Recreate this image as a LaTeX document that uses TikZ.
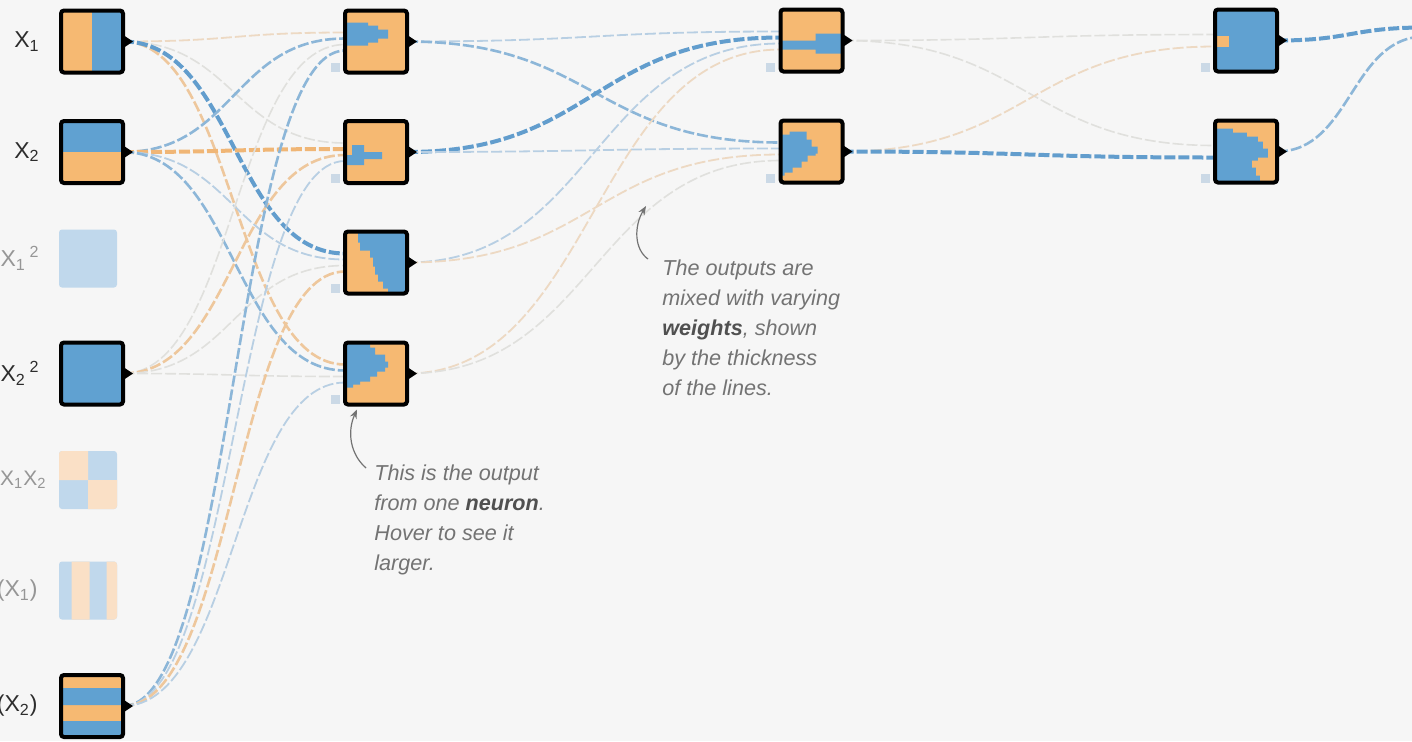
\documentclass[tikz,border=0pt]{standalone}
\usepackage{fontspec}
\setmainfont{Liberation Sans}
\usetikzlibrary{positioning, arrows.meta}

\definecolor{cbg}{RGB}{246,246,246}
\definecolor{corange}{RGB}{246,185,114}
\definecolor{cblue}{RGB}{96,161,209}
\definecolor{fblue}{RGB}{192,216,236}
\definecolor{forange}{RGB}{250,224,198}
\definecolor{cbias}{RGB}{203,217,230}
\definecolor{clabel}{RGB}{45,45,45}
\definecolor{cfaded}{RGB}{150,150,150}
\definecolor{cnote}{RGB}{115,115,115}
\definecolor{cbold}{RGB}{80,80,80}
\definecolor{lb1}{RGB}{98,157,205}
\definecolor{lb2}{RGB}{140,182,216}
\definecolor{lb3}{RGB}{184,207,227}
\definecolor{lo1}{RGB}{240,182,118}
\definecolor{lo2}{RGB}{238,199,156}
\definecolor{lo3}{RGB}{237,217,195}
\definecolor{lg}{RGB}{224,224,221}

\pgfdeclarelayer{bg}
\pgfdeclarelayer{links}
\pgfsetlayers{bg,links,main}

\begin{document}
\begin{tikzpicture} [
            x=0.5pt, y=-0.5pt,
            neuron/.style   = { rectangle, draw=black, line width=2pt, fill=corange,
                                rounded corners=1.5pt, minimum size=31pt,
                                inner sep=0pt, outer sep=0pt },
            feature/.style  = { rectangle, fill=fblue, rounded corners=1.5pt,
                                minimum size=29pt, inner sep=0pt, outer sep=0pt },
            heat/.style     = { path picture={\begin{scope}[shift={(path picture bounding box.center)}, sharp corners] #1 \end{scope}} },
            bias/.style     = { rectangle, fill=cbias, minimum size=4.5pt, inner sep=0pt },
            inlabel/.style  = { font=\fontsize{11.5}{13}\selectfont, text=clabel, inner sep=0pt },
            offlabel/.style = { inlabel, text=cfaded },
            note/.style     = { font=\fontsize{10.8}{15}\selectfont\itshape, text=cnote,
                                align=left, inner sep=0pt, anchor=north west },
            pointer/.style  = { draw=cnote, line width=0.6pt, -{Stealth[length=4.5pt, width=3.5pt]} },
            wire/.style     = { to path={.. controls +(#1,0) and +(-#1,0) .. (\tikztotarget)} },
            link/.style     = { dash pattern=on 5.5pt off 1.5pt },
            wb1/.style      = { link, draw=lb1, line width=2pt },
            wb2/.style      = { link, draw=lb2, line width=1.3pt },
            wb3/.style      = { link, draw=lb3, line width=0.9pt },
            wo1/.style      = { link, draw=lo1, line width=2pt },
            wo2/.style      = { link, draw=lo2, line width=1.3pt },
            wo3/.style      = { link, draw=lo3, line width=0.9pt },
            wg/.style       = { link, draw=lg, line width=0.8pt },
          ]
          \useasboundingbox (0,0) rectangle (1412,741);
          \begin{pgfonlayer}{bg}
            \fill [cbg] (0,0) rectangle (1412,741);
          \end{pgfonlayer}
          \clip (0,0) rectangle (1412,741);

          % input features
          \node (x1)  [neuron, heat={\fill[cblue] (0,-31) rectangle (31,31);}] at (92,41.5) {};
          \node (x2)  [neuron, heat={\fill[cblue] (-31,-31) rectangle (31,0);}] at (92,152) {};
          \node (f1)  [feature] at (88,258.5) {};
          \node (x22) [neuron, fill=cblue] at (92,373.5) {};
          \node (f12) [feature, heat={\fill[forange] (-29,-29) rectangle (0,0) (0,0) rectangle (29,29);}] at (88,480) {};
          \node (s1)  [feature, heat={\fill[forange] (-16.5,-29) rectangle (1.5,29) (18.5,-29) rectangle (29,29);}] at (88,590.5) {};
          \node (s2)  [neuron, heat={\fill[cblue] (-31,-18) rectangle (31,-1) (-31,15) rectangle (31,31);}] at (92,706) {};

          \node (lx1)  [inlabel,  left=10.5pt of x1]  {X\textsubscript{1}};
          \node (lx2)  [inlabel,  left=10.5pt of x2]  {X\textsubscript{2}};
          \node (lf1)  [offlabel, left=9.5pt of f1]   {X\textsubscript{1}\,\textsuperscript{2}};
          \node (lx22) [inlabel,  left=10.5pt of x22] {X\textsubscript{2}\,\textsuperscript{2}};
          \node (lf12) [offlabel, font=\fontsize{10.5}{12}\selectfont, left=6pt of f12] {X\textsubscript{1}X\textsubscript{2}};
          \node (ls1)  [offlabel, left=10.5pt of s1]  {(X\textsubscript{1})};
          \node (ls2)  [inlabel,  left=11.5pt of s2]  {(X\textsubscript{2})};

          % hidden layers
          \node (h1) [neuron, heat={\fill[cblue] (-31,-19) rectangle (-8,4) (-8,-16) rectangle (2,1) (2,-12) rectangle (12,-3);}] at (376,41.5) {};
          \node (h2) [neuron, heat={\fill[cblue] (-24,-7) rectangle (-12,5) (-31,3) rectangle (-12,13) (-12,0) rectangle (6,7);}] at (376,152) {};
          \node (h3) [neuron, heat={\fill[cblue] (-18,-31) -- (31,-31) -- (31,31) -- (12,31) -- (12,26) -- (7,26) -- (7,19) -- (2,19) -- (2,12) -- (-1,12) -- (-1,4) -- (-3,4) -- (-3,-5) -- (-6,-5) -- (-6,-12) -- (-16,-12) -- (-16,-20) -- (-18,-20) -- cycle;}] at (376,262.5) {};
          \node (h4) [neuron, heat={\fill[cblue] (-31,-31) -- (-6,-31) -- (-6,-26) -- (-1,-26) -- (-1,-19) -- (9,-19) -- (9,-12) -- (12,-12) -- (12,-6) -- (9,-6) -- (9,-2) -- (1,-2) -- (1,3) -- (-6,3) -- (-6,8) -- (-16,8) -- (-16,11) -- (-23,11) -- (-23,14) -- (-31,14) -- cycle;}] at (376,373.5) {};

          \node (g1) [neuron, heat={\fill[cblue] (-31,0) rectangle (5,9) (4,-7) rectangle (31,13);}] at (811.5,40.5) {};
          \node (g2) [neuron, heat={\fill[cblue] (-31,-17) -- (-22,-17) -- (-22,-20) -- (-5,-20) -- (-5,-12) -- (0,-12) -- (0,-5) -- (6,-5) -- (6,2) -- (4,2) -- (4,4) -- (-4,4) -- (-4,10) -- (-10,10) -- (-10,16) -- (-19,16) -- (-19,21) -- (-27,21) -- (-27,24) -- (-31,24) -- cycle;}] at (811.5,151.5) {};

          \node (k1) [neuron, fill=cblue, heat={\fill[corange] (-31,-5) rectangle (-17,6);}] at (1246,40.5) {};
          \node (k2) [neuron, fill=cblue, heat={\fill[corange] (-31,-31) -- (31,-31) -- (31,31) -- (14,31) -- (14,24) -- (10,24) -- (10,16) -- (6,16) -- (6,9) -- (12,9) -- (12,6) -- (22,6) -- (22,-3) -- (17,-3) -- (17,-10) -- (12,-10) -- (12,-15) -- (1,-15) -- (1,-19) -- (-13,-19) -- (-13,-23) -- (-31,-23) -- cycle;}] at (1246,151.5) {};

          \coordinate (out) at (1425,31.5);

          \node (h1b) [bias] at ([shift={(-41,26)}]h1.center) {};
          \node (h2b) [bias] at ([shift={(-41,26)}]h2.center) {};
          \node (h3b) [bias] at ([shift={(-41,26)}]h3.center) {};
          \node (h4b) [bias] at ([shift={(-41,26)}]h4.center) {};
          \node (g1b) [bias] at ([shift={(-41,27)}]g1.center) {};
          \node (g2b) [bias] at ([shift={(-41,27)}]g2.center) {};
          \node (k1b) [bias] at ([shift={(-41,27)}]k1.center) {};
          \node (k2b) [bias] at ([shift={(-41,27)}]k2.center) {};

          \foreach \n in {x1,x2,x22,s2,h1,h2,h3,h4,g1,g2,k1,k2}
            \fill (\n.east) ++(1,-6) -- ++(9,6) -- ++(-9,6) -- cycle;

          \begin{pgfonlayer}{links}
            \clip (0,0) rectangle (1412,741);
            \draw [wo3, wire=111] (x1.east)  to ([shift={(0,-9)}]h1.west);
            \draw [wg,  wire=111] (x1.east)  to ([shift={(0,-9)}]h2.west);
            \draw [wo2, wire=111] (x1.east)  to ([shift={(0,-9)}]h4.west);
            \draw [wb1, wire=111] (x1.east)  to ([shift={(0,-9)}]h3.west);
            \draw [wb2, wire=111] (x2.east)  to ([shift={(0,-3)}]h1.west);
            \draw [wo1, wire=111] (x2.east)  to ([shift={(0,-3)}]h2.west);
            \draw [wb3, wire=111] (x2.east)  to ([shift={(0,-3)}]h3.west);
            \draw [wb2, wire=111] (x2.east)  to ([shift={(0,-3)}]h4.west);
            \draw [wg,  wire=111] (x22.east) to ([shift={(0,3)}]h1.west);
            \draw [wo2, wire=111] (x22.east) to ([shift={(0,3)}]h2.west);
            \draw [wg,  wire=111] (x22.east) to ([shift={(0,3)}]h3.west);
            \draw [wg,  wire=111] (x22.east) to ([shift={(0,3)}]h4.west);
            \draw [wb2, wire=111] (s2.east)  to ([shift={(0,9)}]h1.west);
            \draw [wb3, wire=111] (s2.east)  to ([shift={(0,9)}]h2.west);
            \draw [wo2, wire=111] (s2.east)  to ([shift={(0,9)}]h3.west);
            \draw [wb3, wire=111] (s2.east)  to ([shift={(0,9)}]h4.west);

            \draw [wb3, wire=187] (h1.east) to ([shift={(0,-9)}]g1.west);
            \draw [wb2, wire=187] (h1.east) to ([shift={(0,-9)}]g2.west);
            \draw [wb1, wire=187] (h2.east) to ([shift={(0,-3)}]g1.west);
            \draw [wb3, wire=187] (h2.east) to ([shift={(0,-3)}]g2.west);
            \draw [wb3, wire=187] (h3.east) to ([shift={(0,3)}]g1.west);
            \draw [wo3, wire=187] (h3.east) to ([shift={(0,3)}]g2.west);
            \draw [wo3, wire=187] (h4.east) to ([shift={(0,9)}]g1.west);
            \draw [wg,  wire=187] (h4.east) to ([shift={(0,9)}]g2.west);

            \draw [wg,  wire=186] (g1.east) to ([shift={(0,-6)}]k1.west);
            \draw [wg,  wire=186] (g1.east) to ([shift={(0,-6)}]k2.west);
            \draw [wo3, wire=186] (g2.east) to ([shift={(0,6)}]k1.west);
            \draw [wb1, wire=186] (g2.east) to ([shift={(0,6)}]k2.west);

            \draw [wb1, wire=74] (k1.east) to ([shift={(0,-4)}]out);
            \draw [wb2, wire=74] (k2.east) to ([shift={(0,5)}]out);
          \end{pgfonlayer}

          % notes
          \node (note1) [note] at (374,464) {This is the output\\from one \textcolor{cbold}{\textbf{neuron}}.\\Hover to see it\\larger.};
          \node (note2) [note] at (662,259) {The outputs are\\mixed with varying\\\textcolor{cbold}{\textbf{weights}}, shown\\by the thickness\\of the lines.};
          \coordinate (tip2) at (646,206);

          \draw [pointer] ([shift={(-8,4)}]note1.north west) .. controls +(-16,-14) and +(-10,22) .. ([shift={(12,5)}]h4.south west);
          \draw [pointer] ([shift={(-14,0)}]note2.north west) .. controls +(-14,-10) and +(-12,20) .. (tip2);
        \end{tikzpicture}
\end{document}
